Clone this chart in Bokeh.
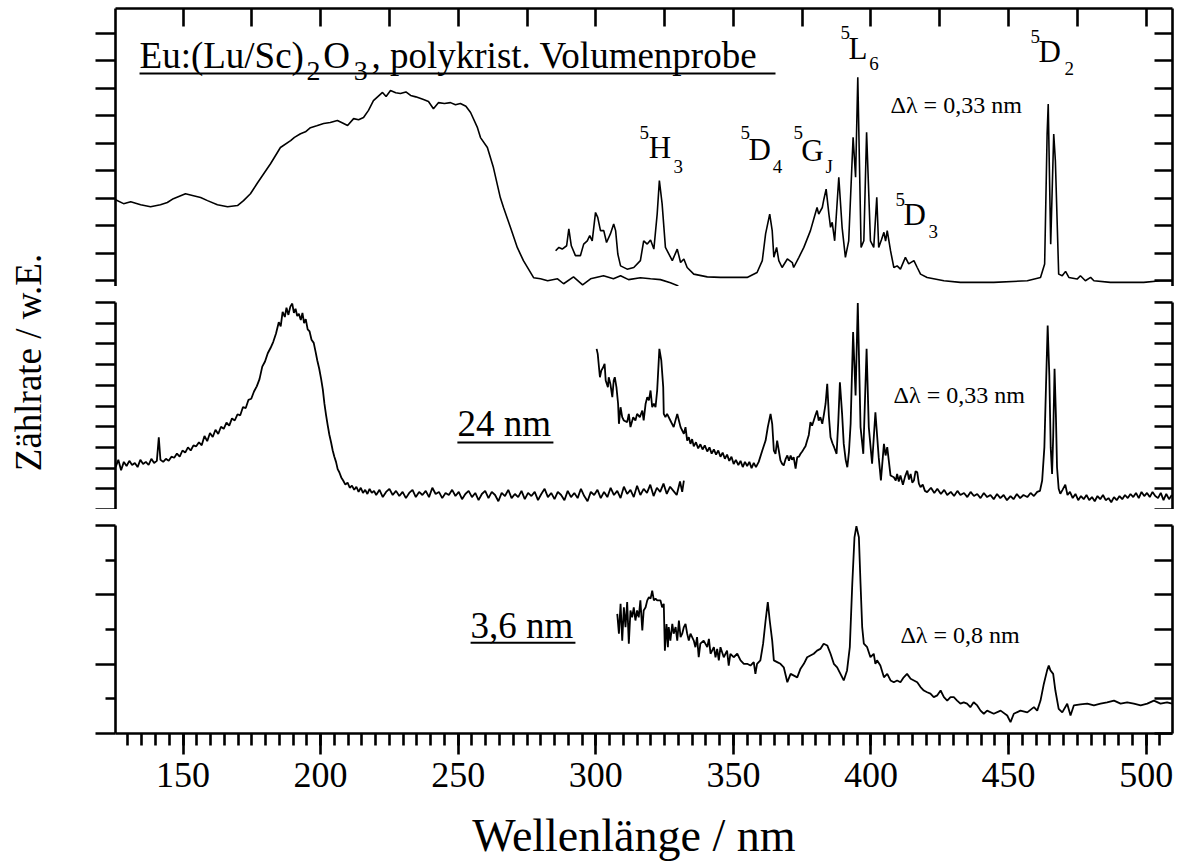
from bokeh.plotting import figure
from bokeh.models import Range1d, LinearAxis, FixedTicker, Label, PrintfTickFormatter
from bokeh.layouts import row, column
from bokeh.embed import file_html
from bokeh.resources import INLINE

FONT = "Liberation Serif"

# ---------------- data (wavelength nm, intensity in panel units) ----------------
top_exc = [(125.5,3.05),(128.4,2.91),(131.0,2.98),(134.6,2.87),(138.2,2.80),(141.8,2.87),(144.3,2.95),
(146.5,3.09),(150.9,3.27),(153.8,3.20),(156.4,3.13),(158.9,3.02),(162.5,2.87),(166.2,2.80),(169.8,2.84),
(172.0,3.02),(174.5,3.27),(177.1,3.67),(181.8,4.36),(185.4,4.95),(189.1,5.20),(190.5,5.32),(192.7,5.45),
(194.5,5.52),(196.3,5.67),(198.6,5.74),(201.1,5.82),(203.5,5.86),(206.1,5.93),(208.0,5.84),(209.8,5.75),
(212.0,6.00),(213.8,5.96),(215.6,6.04),(217.4,6.30),(219.2,6.65),(222.5,6.95),(223.8,6.80),(225.4,7.02),
(227.3,6.94),(229.0,6.91),(231.0,6.97),(232.7,6.84),(234.6,6.79),(237.4,6.69),(239.2,6.62),(241.0,6.36),
(242.8,6.58),(245.0,6.55),(247.2,6.58),(249.0,6.50),(250.8,6.55),(252.8,6.45),(254.5,6.22),(257.0,5.67),
(258.1,5.31),(260.6,4.95),(262.8,4.22),(265.3,3.13),(266.5,2.76),(269.0,2.04),(271.5,1.31),(273.7,0.84),
(277.4,0.22),(279.9,0.18),(282.5,0.11),(286.1,0.18),(288.3,0.00),(291.9,0.25),(295.2,-0.04),(298.1,0.18),
(302.8,0.29),(306.4,0.18),(309.0,0.29),(311.9,0.15),(316.2,0.22),(319.9,0.18),(323.5,0.15),(327.1,0.04),
(330.0,-0.08)]

top_em = [(285.4,1.20),(286.6,1.32),(287.8,1.26),(289.4,1.38),(290.2,1.99),(291.1,1.38),(292.6,1.02),
(294.4,1.02),(295.6,1.44),(296.9,1.56),(297.8,1.75),(298.7,1.56),(299.9,2.59),(300.7,2.41),(301.7,1.93),
(302.9,1.93),(303.9,1.50),(305.3,1.81),(306.5,2.17),(307.2,1.93),(308.0,1.08),(309.0,0.65),(311.4,0.53),
(313.8,0.59),(316.2,0.84),(317.4,1.56),(318.7,1.44),(319.9,1.59),(321.1,1.26),(322.3,2.53),(323.1,3.75),
(324.1,2.90),(325.3,1.32),(327.8,0.84),(329.6,1.26),(330.8,0.77),(332.0,0.90),(333.2,0.59),(335.6,0.35),
(340.5,0.25),(345.3,0.23),(350.1,0.23),(355.0,0.23),(358.6,0.41),(360.5,0.84),(361.7,1.81),(363.2,2.53),
(364.1,1.93),(364.7,0.96),(365.7,1.32),(366.5,0.84),(367.7,0.59),(369.6,0.90),(371.4,0.77),(371.9,0.59),
(373.8,0.96),(375.6,1.32),(378.0,1.93),(379.2,2.35),(380.4,2.77),(381.0,2.53),(382.3,2.77),(382.9,3.08),
(383.7,3.44),(384.7,2.53),(385.3,2.05),(385.9,2.23),(386.8,1.56),(388.3,3.87),(389.5,2.05),(390.7,0.96),
(391.9,1.56),(393.5,5.32),(394.4,3.87),(395.2,7.50),(396.4,1.32),(397.4,1.56),(398.4,5.50),(399.8,1.56),
(401.0,1.32),(402.1,3.14),(402.8,1.32),(403.8,1.60),(404.7,1.87),(405.3,1.55),(405.9,1.93),(407.1,1.20),
(408.3,0.59),(409.5,0.65),(410.7,0.53),(412.5,0.96),(413.7,0.72),(415.6,0.84),(416.8,0.59),(418.0,0.35),
(420.4,0.23),(426.5,0.11),(432.5,0.05),(444.6,0.05),(456.8,0.11),(461.6,0.23),(463.1,0.72),(464.0,5.44),
(464.4,6.53),(465.3,1.44),(466.4,5.44),(467.0,4.47),(468.2,0.35),(469.5,0.29),(470.7,0.45),(471.9,0.23),
(474.9,0.17),(476.1,0.29),(477.9,0.11),(479.8,0.23),(481.0,0.11),(487.0,0.05),(493.1,0.05),(499.1,0.05),
(505.2,0.11),(509.4,0.11)]

mid_exc = [(125.5,2.04),(126.5,2.40),(127.5,1.90),(128.5,2.30),(129.5,2.10),(130.5,2.35),(131.5,2.15),
(132.5,2.25),(133.5,2.05),(134.5,2.40),(135.5,2.20),(136.5,2.30),(137.5,2.15),(138.5,2.45),(139.5,2.25),
(140.5,2.35),(141.2,3.49),(141.8,2.40),(142.8,2.30),(143.8,2.45),(144.8,2.35),(145.8,2.55),(146.8,2.50),
(147.8,2.70),(148.8,2.55),(149.8,2.85),(150.8,2.75),(151.8,3.00),(152.8,2.85),(153.8,3.10),(154.8,3.05),
(155.8,3.25),(156.8,3.10),(157.8,3.55),(158.8,3.30),(159.8,3.70),(160.8,3.50),(161.8,3.85),(162.8,3.65),
(163.8,4.00),(164.8,3.90),(165.8,4.20),(166.8,4.05),(167.8,4.40),(168.8,4.30),(169.8,4.60),(170.8,4.55),
(171.8,4.95),(172.8,4.90),(173.8,5.30),(174.8,5.35),(175.8,5.70),(176.8,5.95),(177.8,6.30),(178.8,6.90),
(179.8,7.15),(180.8,7.55),(181.8,7.80),(182.8,8.10),(183.8,8.50),(184.8,9.05),(185.5,8.85),(186.2,9.55),
(187.0,9.30),(187.6,9.75),(188.3,9.40),(189.0,9.80),(189.7,9.95),(190.3,9.50),(190.9,9.70),(191.5,9.35),
(192.1,9.45),(192.8,9.15),(193.4,9.50),(194.0,9.00),(194.6,9.20),(195.3,8.70),(196.0,8.60),(196.7,8.20),
(197.5,8.05),(198.2,7.60),(198.8,7.20),(199.5,6.80),(200.2,6.30),(200.8,5.80),(201.4,5.10),(202.0,4.55),
(202.6,4.05),(203.2,3.60),(203.8,3.25),(204.4,2.85),(205.0,2.55),(205.6,2.30),(206.2,1.95),(206.8,1.80),
(207.5,1.55),(208.2,1.40),(209.0,1.20),(209.8,1.30),(210.6,1.05),(211.4,1.15),(212.2,0.95),(213.0,1.10),
(213.8,0.85),(214.6,1.05),(215.4,0.80),(216.2,0.95),(217.0,0.75),(217.8,1.00),(218.6,0.80),(219.4,0.90),
(220.2,0.70),(221.4,0.95),(222.6,0.60),(223.8,0.85),(225.0,1.00),(226.2,0.70),(227.4,0.90),(228.6,0.65),
(229.8,0.85),(231.0,0.55),(232.2,0.80),(233.4,0.95),(234.6,0.60),(235.8,0.85),(237.0,0.70),(238.2,0.90),
(239.4,0.60),(240.6,1.05),(241.8,0.75),(243.0,0.85),(244.2,0.55),(245.4,0.80),(246.6,0.70),(247.8,0.95),
(249.0,0.65),(250.2,0.85),(251.4,0.50),(252.6,0.75),(253.8,0.90),(255.0,0.60),(256.2,0.80),(257.4,0.45),
(258.6,0.75),(259.8,0.90),(261.0,0.55),(262.2,0.85),(263.4,0.70),(264.6,0.40),(265.8,0.80),(267.0,0.65),
(268.2,0.95),(269.4,0.55),(270.6,0.75),(271.8,0.60),(273.0,0.90),(274.2,0.50),(275.4,0.80),(276.6,0.65),
(277.8,0.85),(279.0,0.45),(280.2,0.75),(281.4,1.00),(282.6,0.60),(283.8,0.80),(285.0,0.50),(286.2,0.85),
(287.4,0.70),(288.6,0.45),(289.8,0.90),(291.0,0.60),(292.2,0.80),(293.4,0.55),(294.6,1.00),(295.8,0.65),
(297.0,0.40),(298.2,0.85),(299.4,0.70),(300.6,0.95),(301.8,0.55),(303.0,0.85),(304.2,0.60),(305.4,1.05),
(306.6,0.70),(307.8,0.90),(309.0,0.55),(310.2,1.10),(311.4,0.75),(312.6,0.95),(313.8,0.60),(315.0,1.15),
(316.2,0.70),(317.4,1.00),(318.6,0.80),(319.8,1.20),(321.0,0.65),(322.2,1.05),(323.4,0.85),(324.6,1.25),
(325.8,0.75),(327.0,1.10),(328.2,0.90),(329.4,0.70),(330.6,1.35),(331.4,0.85),(332.0,1.40)]

mid_em = [(300.3,7.76),(300.7,7.52),(301.5,6.39),(302.0,6.71),(302.7,6.87),(303.2,7.04),(303.6,6.23),
(304.4,5.91),(304.7,6.39),(305.3,6.07),(306.0,5.43),(306.5,6.23),(306.9,6.39),(307.5,5.91),(308.1,5.11),
(308.4,4.14),(309.0,4.94),(309.6,4.46),(310.2,4.30),(311.4,4.22),(312.0,4.62),(312.6,3.98),(313.6,4.46),
(314.4,4.30),(315.0,4.62),(316.0,4.46),(316.9,4.78),(317.4,4.30),(318.1,5.11),(318.7,5.43),(319.3,5.27),
(319.9,5.75),(320.5,4.94),(321.1,5.11),(321.7,4.94),(322.3,5.75),(323.1,7.76),(323.8,7.20),(324.5,5.91),
(324.7,4.62),(325.3,4.46),(325.9,4.62),(327.1,4.30),(328.3,3.98),(329.6,4.62),(330.2,4.30),(330.8,3.98),
(332.0,3.66),(332.6,3.98),(333.2,3.33),(333.8,3.49),(334.4,3.17),(335.0,3.40),(335.6,3.05),(336.4,3.25),
(337.2,2.95),(338.0,3.15),(338.8,2.90),(339.6,3.10),(340.5,2.80),(341.3,3.00),(342.1,2.70),(342.9,2.90),
(343.7,2.65),(344.5,2.85),(345.3,2.55),(346.1,2.75),(346.9,2.45),(347.7,2.65),(348.5,2.35),(349.3,2.55),
(350.1,2.20),(350.9,2.40),(351.8,2.15),(352.6,2.35),(353.4,2.05),(354.2,2.30),(355.0,2.10),(355.8,2.30),
(356.6,2.00),(357.4,2.25),(358.2,2.05),(359.2,2.30),(360.5,2.85),(361.7,3.33),(362.5,3.98),(363.5,4.62),
(364.1,4.14),(364.7,2.85),(365.3,2.69),(365.9,3.33),(366.5,2.85),(367.1,2.37),(367.7,2.21),(368.3,2.13),
(369.0,2.45),(369.6,2.61),(370.2,2.35),(370.8,2.61),(371.3,2.40),(371.9,2.53),(372.6,1.97),(373.2,2.53),
(373.8,2.55),(374.4,2.69),(375.0,2.80),(375.6,2.93),(376.2,3.05),(376.8,3.33),(377.4,3.60),(378.0,4.22),
(378.6,4.05),(379.2,4.30),(379.8,4.55),(380.4,4.78),(381.0,4.30),(381.6,4.46),(382.3,4.14),(382.9,4.60),
(383.5,5.11),(384.1,6.07),(384.7,4.50),(385.3,3.49),(386.0,3.20),(386.6,3.01),(387.5,2.69),(388.1,4.20),
(388.7,6.15),(389.5,4.62),(390.1,3.17),(390.8,2.40),(391.4,2.04),(392.0,2.80),(392.6,4.14),(393.5,8.57),
(394.4,5.51),(395.2,9.98),(396.2,3.98),(397.2,2.69),(398.4,7.76),(399.2,3.98),(400.4,2.21),(401.6,4.70),
(402.8,2.53),(403.6,1.40),(404.7,3.17),(405.3,2.61),(405.9,3.01),(407.1,1.64),(408.3,1.56),(409.0,1.40),
(409.5,1.72),(410.1,1.35),(410.7,1.64),(411.6,1.20),(412.4,1.60),(413.2,1.88),(413.8,1.45),(414.4,1.72),
(415.0,1.30),(415.6,1.40),(416.2,1.85),(416.8,1.80),(417.4,1.25),(418.0,1.08),(418.8,1.20),(419.6,0.90),
(420.4,0.84),(421.8,1.05),(423.0,0.80),(424.1,1.00),(425.4,0.75),(426.6,0.95),(427.7,0.70),(429.0,0.85),
(430.2,0.65),(431.4,0.90),(432.5,0.70),(433.8,0.80),(435.0,0.60),(436.2,0.85),(437.4,0.65),(438.6,0.75),
(439.8,0.55),(441.0,0.80),(442.2,0.60),(443.4,0.70),(444.6,0.50),(445.8,0.75),(447.0,0.55),(448.2,0.70),
(449.4,0.45),(450.7,0.65),(451.8,0.50),(453.0,0.75),(454.2,0.55),(455.4,0.70),(456.8,0.60),(458.0,0.80),
(459.2,0.65),(460.4,0.85),(461.4,0.90),(462.2,1.40),(463.0,3.00),(463.6,6.00),(464.2,8.89),(464.8,6.50),
(465.3,3.00),(465.8,1.72),(466.2,3.50),(466.7,6.80),(467.2,4.50),(467.6,2.04),(468.2,1.00),(468.8,0.76),
(469.6,0.95),(470.6,1.20),(471.4,0.70),(472.3,0.85),(473.3,0.55),(474.3,0.75),(475.3,0.45),(476.3,0.65),
(477.3,0.50),(478.3,0.70),(479.3,0.45),(480.3,0.60),(481.3,0.40),(482.3,0.65),(483.3,0.50),(484.3,0.70),
(485.3,0.45),(486.3,0.55),(487.3,0.35),(488.3,0.60),(489.3,0.45),(490.3,0.65),(491.3,0.50),(492.3,0.70),
(493.3,0.55),(494.3,0.75),(495.3,0.60),(496.3,0.80),(497.3,0.55),(498.3,0.85),(499.3,0.65),(500.3,0.80),
(501.3,0.60),(502.3,0.85),(503.3,0.65),(504.3,0.55),(505.3,0.80),(506.3,0.45),(507.3,0.75),(508.3,0.50),
(509.3,0.70)]

bot_em = [(307.8,3.45),(308.4,2.88),(309.0,3.74),(309.6,2.68),(310.2,3.64),(310.8,3.07),(311.4,3.79),
(312.0,2.59),(312.6,3.55),(313.2,3.35),(313.8,3.64),(314.4,3.26),(315.0,3.55),(315.6,3.35),(316.2,3.84),
(316.9,2.97),(317.4,3.55),(318.1,3.64),(318.7,3.84),(319.3,3.93),(319.9,3.89),(320.5,4.12),(321.1,3.84),
(321.7,3.89),(322.3,3.84),(323.5,3.84),(324.1,3.64),(324.7,3.74),(325.1,2.39),(325.7,3.16),(326.2,2.49),
(326.5,3.07),(327.1,2.68),(327.8,3.16),(328.3,2.88),(329.0,3.07),(329.6,2.68),(330.2,3.26),(330.8,2.78),
(331.4,2.88),(332.0,3.07),(332.6,3.16),(333.2,2.88),(333.8,2.68),(334.4,2.88),(335.6,2.68),(336.2,2.49),
(336.8,2.78),(337.4,2.20),(338.0,2.59),(339.2,2.68),(340.5,2.49),(341.1,2.73),(341.7,2.30),(342.9,2.49),
(343.5,2.20),(344.1,2.44),(344.7,2.11),(345.3,2.49),(346.5,2.20),(347.7,2.39),(348.3,1.96),(348.9,2.30),
(350.1,2.20),(351.4,2.30),(352.6,2.11),(353.8,2.01),(355.0,2.01),(356.2,1.96),(357.4,2.06),(358.0,1.72),
(358.6,2.01),(359.8,2.11),(360.8,2.59),(361.7,3.26),(362.5,3.79),(363.2,3.26),(364.1,2.68),(364.7,2.11),
(365.9,2.06),(367.1,2.01),(368.3,1.91),(369.6,1.48),(370.8,1.72),(372.0,1.67),(373.2,1.62),(374.4,1.87),
(375.6,2.01),(376.8,2.20),(378.0,2.25),(379.2,2.30),(380.4,2.39),(381.6,2.44),(382.8,2.59),(384.1,2.54),
(385.3,2.30),(386.5,2.01),(387.7,1.91),(388.9,1.72),(390.1,1.53),(391.3,1.82),(392.3,2.49),(393.2,4.32),
(394.0,5.66),(394.7,5.98),(395.6,5.66),(396.2,4.32),(396.8,3.07),(397.4,2.59),(398.6,2.49),(399.8,2.20),
(401.0,2.30),(401.6,2.01),(402.2,2.11),(403.4,1.96),(404.7,1.62),(405.9,1.72),(407.1,1.53),(408.3,1.48),
(409.5,1.53),(410.7,1.48),(411.9,1.62),(413.1,1.72),(414.4,1.58),(415.6,1.53),(416.8,1.48),(418.0,1.34),
(419.2,1.24),(420.4,1.19),(421.6,1.15),(422.8,1.05),(424.1,1.10),(425.3,1.24),(426.5,1.05),(427.7,0.95),
(428.9,1.05),(430.1,1.05),(431.3,0.95),(432.5,0.86),(433.7,0.90),(434.9,0.86),(436.1,0.76),(437.3,0.90),
(438.6,0.81),(439.8,0.66),(441.0,0.57),(442.2,0.66),(444.6,0.57),(447.1,0.66),(449.5,0.52),(450.7,0.33),
(451.9,0.57),(454.3,0.66),(456.8,0.61),(459.2,0.76),(460.4,0.66),(461.6,0.95),(462.8,1.43),(464.0,1.82),
(464.6,1.96),(465.2,1.82),(466.2,1.72),(467.0,1.24),(468.2,0.71),(469.5,0.61),(471.3,0.86),(472.5,0.52),
(473.7,0.81),(476.1,0.84),(478.6,0.86),(481.0,0.81),(483.4,0.86),(485.8,0.90),(488.3,0.95),(490.7,0.86),
(493.1,0.90),(495.5,0.86),(498.0,0.81),(500.4,0.86),(502.8,0.95),(505.2,0.86),(507.6,0.90),(509.4,0.86)]

X_MAJOR = [150, 200, 250, 300, 350, 400, 450, 500]
X_TOP_TICKS = [150, 175, 200, 225, 250, 275, 300, 325, 350, 375, 400, 425, 450, 475, 500]
X_MINOR = list(range(125, 511, 5))
X_LABEL = "Wellenlänge / nm"
Y_LABEL = "Zählrate / w.E."

# ---------------- layout helpers ----------------
X_RANGE = (125.47, 509.56)
LW = 2.6
PX_TOP = 278 / 10.1
PX_MID = 207 / 10.0
PX_BOT = 208 / 6.0


def panel(yr, frame_h, b_top, b_bottom):
    p = figure(frame_width=1057, frame_height=frame_h, x_range=Range1d(*X_RANGE),
               y_range=Range1d(*yr), x_axis_location=None, y_axis_location=None,
               toolbar_location=None, output_backend="svg",
               min_border_left=25, min_border_right=7,
               min_border_top=b_top, min_border_bottom=b_bottom)
    p.outline_line_color = None
    p.grid.visible = False
    return p


def style(ax, tin, tout, min_in=0, min_out=0):
    ax.axis_line_width = LW
    ax.axis_line_color = "black"
    ax.major_tick_line_width = LW
    ax.minor_tick_line_width = LW
    ax.major_tick_line_color = "black"
    ax.minor_tick_line_color = "black"
    ax.major_tick_in = tin
    ax.major_tick_out = tout
    ax.minor_tick_in = min_in
    ax.minor_tick_out = min_out


def blank_axis(ticks, minor=None, tin=0, tout=0, min_in=0, min_out=0):
    ax = LinearAxis(ticker=FixedTicker(ticks=ticks, minor_ticks=minor or []),
                    formatter=PrintfTickFormatter(format=""),
                    major_label_standoff=0, major_label_text_font_size="1px")
    style(ax, tin, tout, min_in, min_out)
    return ax


def txt(p, x, y_base, s, size, ppu):
    # y_base: baseline position in data units; shift to the text's vertical middle
    yc = y_base + 0.34 * size / ppu
    p.add_layout(Label(x=x, y=yc, text=s, text_font=FONT, text_font_size=f"{size}px",
                       text_baseline="middle", text_align="left", text_color="black"))


def xs(d):
    return [a for a, b in d]


def ys(d):
    return [b for a, b in d]


# ---------------- top panel ----------------
top = panel((-0.1, 10.0), 278, 8, 0)
top.add_layout(blank_axis(X_TOP_TICKS, tin=18), "above")
top_ticks = [0.1 + k for k in range(10)]
top.add_layout(blank_axis(top_ticks, tout=20), "left")
top.add_layout(blank_axis(top_ticks, tin=18), "right")
top.line(xs(top_exc), ys(top_exc), line_color="black", line_width=1.6)
top.line(xs(top_em), ys(top_em), line_color="black", line_width=1.6)

txt(top, 134.2, 7.82, "Eu:(Lu/Sc)", 37, PX_TOP)
txt(top, 194.9, 7.38, "2", 28, PX_TOP)
txt(top, 201.0, 7.82, "O", 37, PX_TOP)
txt(top, 212.0, 7.38, "3", 28, PX_TOP)
txt(top, 218.5, 7.82, ",  polykrist. Volumenprobe", 37, PX_TOP)
top.segment(x0=[134.2], y0=[7.64], x1=[365.3], y1=[7.64], line_color="black", line_width=2)

terms = [("H", "3", 315.9, 5.27, 319.2, 4.55, 328.2, 4.04),
         ("D", "4", 352.6, 5.27, 355.5, 4.51, 364.3, 4.04),
         ("G", "J", 371.8, 5.27, 374.7, 4.47, 383.5, 4.04),
         ("L", "6", 388.9, 8.91, 391.8, 8.18, 399.4, 7.75),
         ("D", "3", 408.9, 2.84, 411.8, 2.15, 420.9, 1.67),
         ("D", "2", 458.0, 8.76, 460.9, 8.04, 470.3, 7.60)]
for big, sub, x5, y5, xb, yb, xsub, ysub in terms:
    txt(top, x5, y5, "5", 19, PX_TOP)
    txt(top, xb, yb, big, 31, PX_TOP)
    txt(top, xsub, ysub, sub, 19, PX_TOP)

txt(top, 407.1, 6.18, "Δλ = 0,33 nm", 24, PX_TOP)

# ---------------- middle panel ----------------
mid = panel((0, 10), 207, 16, 0)
mid_ticks = list(range(0, 11))
mid.add_layout(blank_axis(mid_ticks, tout=20), "left")
mid.add_layout(blank_axis(mid_ticks, tin=18), "right")
mid.line(xs(mid_exc), ys(mid_exc), line_color="black", line_width=1.8)
mid.line(xs(mid_em), ys(mid_em), line_color="black", line_width=1.8)
txt(mid, 249.7, 3.57, "24 nm", 37, PX_MID)
mid.segment(x0=[249.7], y0=[3.24], x1=[284.6], y1=[3.24], line_color="black", line_width=2)
txt(mid, 408.2, 5.12, "Δλ = 0,33 nm", 24, PX_MID)

# ---------------- bottom panel ----------------
bot = panel((0, 6), 208, 16, 75)
bot.add_layout(blank_axis([0, 2, 4, 6], minor=[1, 3, 5], tout=20, min_out=10), "left")
bot.add_layout(blank_axis([0, 1, 2, 3, 4, 5, 6], tin=18), "right")
xax = LinearAxis(ticker=FixedTicker(ticks=X_MAJOR, minor_ticks=X_MINOR))
style(xax, 0, 21, 0, 12)
xax.major_label_text_font = FONT
xax.major_label_text_font_size = "36px"
xax.major_label_text_color = "black"
xax.major_label_standoff = 8
bot.add_layout(xax, "below")
bot.line(xs(bot_em), ys(bot_em), line_color="black", line_width=1.8)
txt(bot, 254.5, 2.74, "3,6 nm", 37, PX_BOT)
bot.segment(x0=[254.5], y0=[2.62], x1=[292.6], y1=[2.62], line_color="black", line_width=2)
txt(bot, 410.7, 2.60, "Δλ = 0,8 nm", 24, PX_BOT)

# ---------------- x title strip ----------------
xlab = figure(width=1089, height=57, x_range=Range1d(0, 1089), y_range=Range1d(0, 57),
              x_axis_location=None, y_axis_location=None, toolbar_location=None,
              output_backend="svg", min_border=0)
xlab.outline_line_color = None
xlab.grid.visible = False
xlab.add_layout(Label(x=534, y=30, text=X_LABEL, text_align="center", text_baseline="middle",
                      text_font=FONT, text_font_size="46px", text_color="black"))

# ---------------- y label strip ----------------
ylab = figure(width=90, height=865, x_range=Range1d(0, 90), y_range=Range1d(0, 865),
              x_axis_location=None, y_axis_location=None, toolbar_location=None,
              output_backend="svg", min_border=0)
ylab.outline_line_color = None
ylab.grid.visible = False
ylab.add_layout(Label(x=28, y=503, text=Y_LABEL, angle=90, angle_units="deg",
                      text_align="center", text_baseline="middle", text_font=FONT,
                      text_font_size="37px", text_color="black"))

layout = row(ylab, column(top, mid, bot, xlab, spacing=0), spacing=0)

open("out.html", "w").write(file_html(layout, INLINE))
